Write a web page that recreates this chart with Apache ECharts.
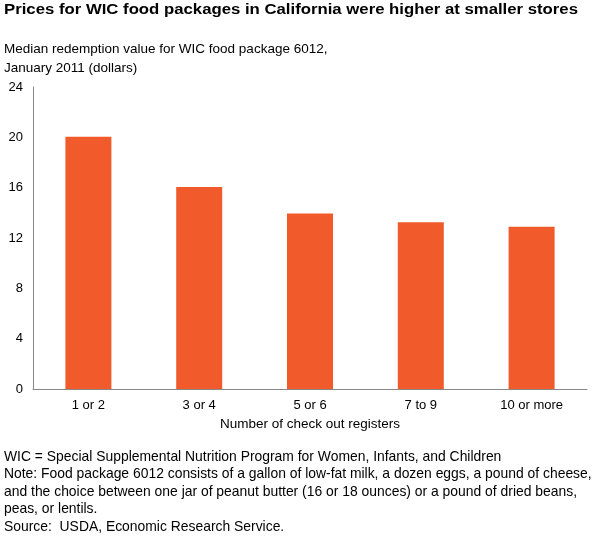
<!DOCTYPE html><html><head><meta charset="utf-8"><script src="https://cdn.jsdelivr.net/npm/echarts@6/dist/echarts.min.js"></script>
<style>body{margin:0}#c{width:597px;height:552px}</style></head><body><div id="c"></div><script>
const categories=['1 or 2','3 or 4','5 or 6','7 to 9','10 or more'];
const values=[20.05,16.05,13.95,13.25,12.9];
const yTicks=[0,4,8,12,16,20,24];
const F='Liberation Sans, Arial, sans-serif';
const c=echarts.init(document.getElementById('c'));
c.setOption({
 animation:false,
 textStyle:{fontFamily:F},
 graphic:[
  {type:'text',left:4,top:3,style:{text:'Prices for WIC food packages in California were higher at smaller stores',font:'bold 13.5px '+F,fill:'#000'},scaleX:1.24,scaleY:1.05},
  {type:'text',left:4,top:40,style:{text:'Median redemption value for WIC food package 6012,\nJanuary 2011 (dollars)',font:'13.5px '+F,lineHeight:19,fill:'#000'}},
  {type:'text',left:4,top:448,style:{text:'WIC = Special Supplemental Nutrition Program for Women, Infants, and Children\nNote: Food package 6012 consists of a gallon of low-fat milk, a dozen eggs, a pound of cheese,\nand the choice between one jar of peanut butter (16 or 18 ounces) or a pound of dried beans,\npeas, or lentils.\nSource:  USDA, Economic Research Service.',font:'13.9px '+F,lineHeight:17.5,fill:'#000'}}
 ],
 grid:{left:33,right:10,top:87,bottom:163},
 xAxis:{type:'category',data:categories,name:'Number of check out registers',nameLocation:'middle',nameGap:28,
  nameTextStyle:{fontSize:13.5,color:'#000',fontFamily:F},
  axisLine:{lineStyle:{color:'#888'}},axisTick:{show:false},axisLabel:{color:'#000',fontSize:13,margin:10}},
 yAxis:{type:'value',min:0,max:24,interval:4,axisLine:{show:true,lineStyle:{color:'#888'}},axisTick:{show:false},
  splitLine:{show:false},axisLabel:{color:'#000',fontSize:13,margin:10}},
 series:[{type:'bar',data:values,barWidth:46,itemStyle:{color:'#f15a2b'}}]
});
</script></body></html>
